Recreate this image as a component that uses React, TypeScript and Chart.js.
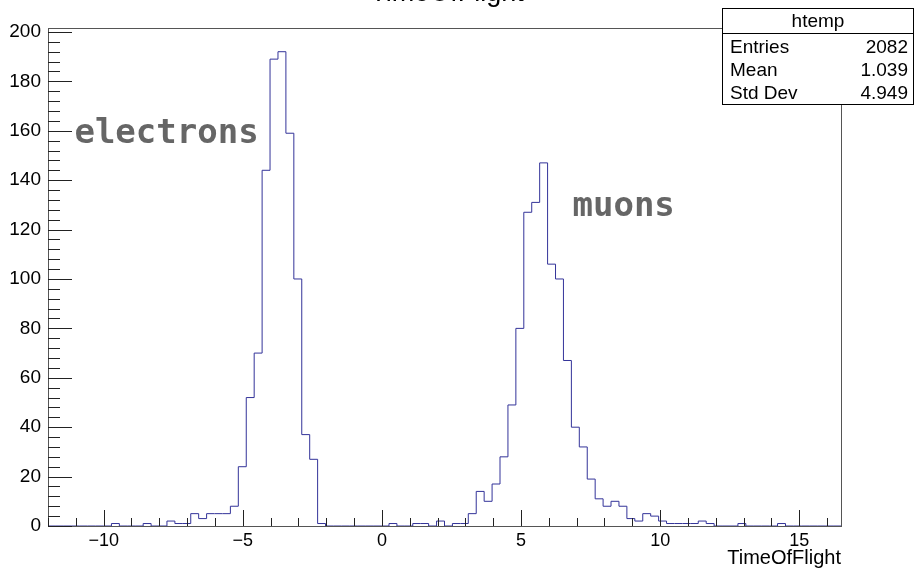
import { useEffect, useRef } from 'react';
import { Chart, registerables } from 'chart.js';

Chart.register(...registerables);

// ---- data ----
const xMin = -12;
const xMax = 16.5;
const binCounts = [
  0, 0, 0, 0, 0, 0, 0, 0,
  1, 0, 0, 0,
  1, 0, 0,
  2, 1, 1,
  5, 3, 5, 5, 5, 8, 24,
  52, 70, 144, 189, 192, 159, 100, 37, 27, 1,
  0, 0, 0, 0, 0, 0, 0, 0,
  1, 0, 0, 1, 1, 0, 2, 0, 1, 1,
  5, 14, 10, 17, 28, 49, 80, 127, 131, 147, 106, 100, 67, 40, 32, 19, 11, 8, 10, 8,
  3, 2, 5, 4, 2, 1, 1, 1, 1, 2, 1,
  0, 0, 0, 1, 0, 0, 0, 0, 1,
  0, 0, 0, 0, 0, 0, 0,
];
const yMin = 0;
const yMax = 201.6;
const xMajorTicks = [-10, -5, 0, 5, 10, 15];
const xMinorStep = 1;
const yMajorTicks = [0, 20, 40, 60, 80, 100, 120, 140, 160, 180, 200];
const yMinorStep = 4;
const histTitle = 'TimeOfFlight';
const xAxisTitle = 'TimeOfFlight';
const statsName = 'htemp';
const statsLabels = ['Entries', 'Mean', 'Std Dev'];
const statsValues = ['2082', '1.039', '4.949'];
const annotationTexts = ['electrons', 'muons'];
const annotationX = [-11.05, 6.85];
const annotationY = [155, 125.5];

const FONT = '"Liberation Sans", Arial, Helvetica, sans-serif';

const fmt = (v: number) => (v < 0 ? '\u2212' + Math.abs(v) : String(v));

export default function App() {
  const ref = useRef<HTMLCanvasElement | null>(null);

  useEffect(() => {
    document.body.style.margin = '0';
    const canvas = ref.current;
    if (!canvas) return;

    const nBins = binCounts.length;
    const w = (xMax - xMin) / nBins;
    const pts = binCounts.map((c, i) => ({ x: xMin + i * w, y: c }));
    pts.push({ x: xMax, y: binCounts[nBins - 1] });

    const decor = {
      id: 'rootDecor',
      afterDatasetsDraw(chart: any) {
        const { ctx, chartArea: a, scales } = chart;
        const xs = scales.x;
        const ys = scales.y;
        ctx.save();
        // frame
        ctx.strokeStyle = '#555';
        ctx.lineWidth = 1;
        ctx.strokeRect(a.left + 0.5, a.top + 0.5, a.right - a.left, a.bottom - a.top);
        // ticks
        ctx.strokeStyle = '#222';
        ctx.beginPath();
        for (let v = Math.ceil(xMin); v <= xMax; v += xMinorStep) {
          const px = Math.round(xs.getPixelForValue(v)) + 0.5;
          const len = xMajorTicks.includes(v) ? 16 : 8;
          ctx.moveTo(px, a.bottom);
          ctx.lineTo(px, a.bottom - len);
        }
        for (let v = yMin; v <= yMax; v += yMinorStep) {
          const py = Math.round(ys.getPixelForValue(v)) + 0.5;
          const len = yMajorTicks.includes(v) ? 24 : 12;
          ctx.moveTo(a.left, py);
          ctx.lineTo(a.left + len, py);
        }
        ctx.stroke();

        // histogram title (cut at top as in the original)
        ctx.fillStyle = '#000';
        ctx.font = `27px ${FONT}`;
        ctx.textAlign = 'center';
        ctx.textBaseline = 'alphabetic';
        ctx.fillText(histTitle, 447, 0.5);

        // annotations
        ctx.fillStyle = '#666';
        ctx.font = `bold 34px "DejaVu Sans Mono", monospace`;
        ctx.textAlign = 'left';
        annotationTexts.forEach((t, i) => {
          ctx.fillText(t, xs.getPixelForValue(annotationX[i]), ys.getPixelForValue(annotationY[i]));
        });

        // stats box
        const bx = 722, by = 8, bw = 192, bh = 97;
        ctx.fillStyle = '#fff';
        ctx.fillRect(bx, by, bw, bh);
        ctx.strokeStyle = '#000';
        ctx.lineWidth = 1;
        ctx.strokeRect(bx + 0.5, by + 0.5, bw - 1, bh - 1);
        ctx.beginPath();
        ctx.moveTo(bx, 33.5);
        ctx.lineTo(bx + bw, 33.5);
        ctx.stroke();
        ctx.fillStyle = '#000';
        ctx.font = `19px ${FONT}`;
        ctx.textAlign = 'center';
        ctx.fillText(statsName, bx + bw / 2, 27);
        statsLabels.forEach((l, i) => {
          const yy = 53 + i * 23;
          ctx.textAlign = 'left';
          ctx.fillText(l, bx + 8, yy);
          ctx.textAlign = 'right';
          ctx.fillText(statsValues[i], bx + bw - 6, yy);
        });
        ctx.restore();
      },
    };

    const chart = new Chart(canvas, {
      type: 'line',
      data: {
        datasets: [
          {
            data: pts,
            stepped: 'before',
            borderColor: '#333399',
            borderWidth: 1,
            pointRadius: 0,
            fill: false,
            clip: false,
          } as any,
        ],
      },
      options: {
        animation: false,
        responsive: false,
        devicePixelRatio: 1,
        layout: { padding: { left: 0, right: 76, top: 28, bottom: 0 } },
        plugins: { legend: { display: false }, tooltip: { enabled: false }, title: { display: false } },
        scales: {
          x: {
            type: 'linear',
            min: xMin,
            max: xMax,
            grid: { display: false, drawTicks: false },
            border: { display: false },
            afterBuildTicks: (s: any) => {
              s.ticks = xMajorTicks.map((v) => ({ value: v }));
            },
            afterFit: (s: any) => {
              s.height = 44;
            },
            ticks: {
              autoSkip: false,
              maxRotation: 0,
              padding: 4,
              color: '#000',
              font: { family: FONT, size: 18 },
              callback: (v: any) => fmt(Number(v)),
            },
            title: {
              display: true,
              text: xAxisTitle,
              align: 'end',
              color: '#000',
              font: { family: FONT, size: 20 },
              padding: { top: 0, bottom: 0 },
            },
          },
          y: {
            type: 'linear',
            min: yMin,
            max: yMax,
            grid: { display: false, drawTicks: false },
            border: { display: false },
            afterBuildTicks: (s: any) => {
              s.ticks = yMajorTicks.map((v) => ({ value: v }));
            },
            afterFit: (s: any) => {
              s.width = 48;
            },
            ticks: {
              autoSkip: false,
              padding: 7,
              color: '#000',
              font: { family: FONT, size: 19 },
              callback: (v: any) => fmt(Number(v)),
            },
          },
        },
      },
      plugins: [decor],
    });

    return () => chart.destroy();
  }, []);

  return (
    <div style={{ width: 917, height: 570, background: '#fff' }}>
      <canvas ref={ref} width={917} height={570} />
    </div>
  );
}
